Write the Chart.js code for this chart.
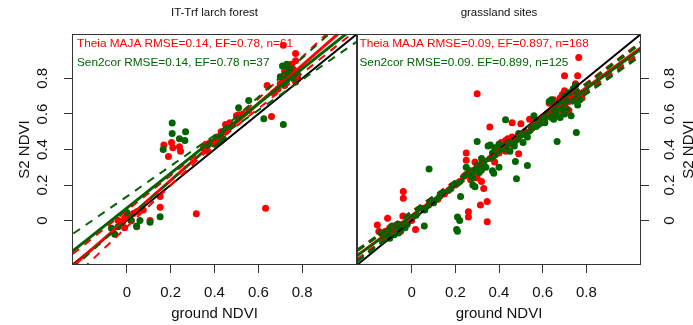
<!DOCTYPE html>
<html><head><meta charset="utf-8">
<script src="https://cdn.jsdelivr.net/npm/chart.js@4"></script>
<style>
html,body{margin:0;padding:0;background:#fff;width:693px;height:325px;overflow:hidden}
canvas{position:absolute;left:0;top:0}
</style></head>
<body>
<canvas id="c1" width="693" height="325"></canvas>
<canvas id="c2" width="693" height="325"></canvas>
<script>
// ---------- texts / ticks ----------
const panelTitles = ['IT-Trf larch forest', 'grassland sites'];
const xAxisTitle = 'ground NDVI';
const yAxisTitle = 'S2 NDVI';
const tickValues = [0, 0.2, 0.4, 0.6, 0.8];
const tickLabels = ['0', '0.2', '0.4', '0.6', '0.8'];
const axisMin = -0.25, axisMax = 1.05;
const forestLegend = ['Theia MAJA RMSE=0.14, EF=0.78, n=61', 'Sen2cor RMSE=0.14, EF=0.78 n=37'];
const grassLegend = ['Theia MAJA RMSE=0.09, EF=0.897, n=168', 'Sen2cor RMSE=0.09. EF=0.899, n=125'];

// ---------- left panel: IT-Trf larch forest ----------
const forestMajaX = [0.714,0.77,0.77,0.75,0.73,0.72,0.76,0.74,0.78,0.71,0.77,0.70,0.64,0.67,0.69,0.66,
  0.556,0.53,0.51,0.50,0.47,0.45,0.46,0.43,0.41,0.38,0.36,0.35,0.37,
  0.169,0.204,0.21,0.24,0.245,0.19,
  0.152,0.152,0.317,0.633,0.106,0.075,0.045,0.045,-0.01,-0.01,-0.04,0.01,0.02,0.03,-0.02];
const forestMajaY = [0.986,0.94,0.90,0.88,0.86,0.84,0.85,0.82,0.80,0.80,0.78,0.77,0.76,0.72,0.74,0.586,
  0.62,0.60,0.595,0.59,0.55,0.54,0.53,0.50,0.47,0.44,0.43,0.41,0.39,
  0.426,0.44,0.41,0.415,0.39,0.36,
  0.135,0.075,0.038,0.07,0.0,0.06,0.05,-0.035,0.013,-0.04,0.0,0.02,0.0,0.04,-0.01];
const forestSen2corX = [0.72,0.73,0.71,0.74,0.75,0.72,0.76,0.70,0.73,0.78,
  0.625,0.714,0.556,0.51,0.44,0.42,0.40,
  0.207,0.207,0.24,0.265,0.268,0.166,
  0.152,0.106,0.06,0.045,0.0,-0.04,-0.07,-0.055,0.02];
const forestSen2corY = [0.76,0.88,0.87,0.85,0.83,0.82,0.80,0.81,0.79,0.82,
  0.573,0.54,0.676,0.635,0.46,0.44,0.43,
  0.549,0.49,0.46,0.45,0.50,0.40,
  0.022,-0.01,0.0,-0.03,0.045,-0.035,-0.043,-0.077,0.0];
// fitted lines and confidence bands
const oneToOneX = [-0.3, 1.1];
const oneToOneY = [-0.3, 1.1];
const forestMajaFitX = [-0.3, 1.1];
const forestMajaFitY = [-0.314, 1.198];
const forestMajaBandX = [-0.3, 0, 0.4, 0.8, 1.1];
const forestMajaUpY = [-0.241, 0.056, 0.452, 0.920, 1.271];
const forestMajaLoY = [-0.387, -0.036, 0.432, 0.828, 1.125];
const forestSenFitX = [-0.3, 1.1];
const forestSenFitY = [-0.224, 1.148];
const forestSenBandX = [-0.3, 0, 0.42, 0.8, 1.1];
const forestSenUpY = [-0.121, 0.135, 0.497, 0.915, 1.245];
const forestSenLoY = [-0.327, 0.005, 0.467, 0.793, 1.051];

// ---------- right panel: grassland sites ----------
const grassMajaX = [0.765,0.30,0.70,0.76,0.358,0.49,-0.038,-0.038,0.33,0.346,0.315,0.346,0.26,0.26,0.25,0.25,0.018,-0.157,-0.15,-0.11,-0.04,0.77,0.46,0.50,
  -0.12,-0.10,-0.08,-0.06,-0.05,-0.09,-0.03,0.0,-0.13,
  0.05,0.08,0.12,0.15,0.17,0.2,0.22,0.1,
  0.24,0.26,0.28,0.29,0.31,0.33,0.27,0.3,0.32,0.29,
  0.36,0.38,0.40,0.41,0.43,0.44,0.45,0.46,0.47,0.48,0.44,0.42,0.46,0.49,0.40,0.38,0.43,
  0.52,0.55,0.54,0.56,0.58,0.60,0.62,0.64,0.65,0.66,0.67,0.68,0.70,0.71,0.72,0.66,0.63,0.69,0.73,0.74,0.75,0.68,0.7,0.78,0.61,0.65,0.72];
const grassMajaY = [0.918,0.714,0.815,0.815,0.526,0.376,0.163,0.126,0.18,0.107,0.088,-0.006,0.05,0.02,0.38,0.34,-0.05,-0.025,-0.062,0.013,0.026,0.714,0.55,0.545,
  -0.06,-0.04,-0.05,-0.03,-0.06,-0.08,-0.02,0.0,-0.09,
  0.07,0.09,0.12,0.15,0.17,0.2,0.22,0.1,
  0.25,0.27,0.26,0.28,0.30,0.31,0.23,0.24,0.22,0.33,
  0.35,0.37,0.38,0.44,0.45,0.46,0.45,0.47,0.44,0.46,0.43,0.42,0.43,0.47,0.42,0.33,0.39,
  0.50,0.52,0.57,0.57,0.55,0.58,0.60,0.62,0.65,0.64,0.66,0.62,0.65,0.68,0.67,0.61,0.66,0.71,0.70,0.74,0.77,0.69,0.73,0.69,0.57,0.68,0.62];
const grassSen2corX = [0.30,0.43,0.36,0.475,0.48,0.754,0.666,0.08,0.376,0.21,0.22,0.206,0.21,0.224,0.25,0.25,0.32,0.32,0.29,0.28,0.058,0.53,0.40,0.37,
  -0.11,-0.10,-0.09,-0.08,-0.07,-0.06,-0.05,-0.04,-0.03,-0.08,-0.12,-0.02,-0.06,-0.1,-0.14,
  0.02,0.06,0.1,0.13,0.18,0.21,
  0.27,0.30,0.32,0.31,0.34,0.28,
  0.37,0.39,0.40,0.42,0.43,0.44,0.35,0.38,0.45,0.47,0.50,0.52,0.53,0.51,0.49,0.55,0.57,0.58,0.56,0.6,
  0.62,0.63,0.64,0.66,0.67,0.69,0.70,0.71,0.72,0.74,0.75,0.76,0.73,0.68,0.65,0.61,0.74,0.7,0.77,0.66];
const grassSen2corY = [0.445,0.567,0.426,0.333,0.235,0.496,0.445,0.29,0.267,0.02,0.0,-0.05,-0.06,0.135,0.30,0.26,0.35,0.285,0.19,0.2,-0.03,0.31,0.3,0.28,
  -0.07,-0.05,-0.03,-0.06,-0.04,-0.02,-0.05,-0.03,-0.04,-0.08,-0.09,-0.02,-0.07,-0.1,-0.07,
  0.03,0.06,0.1,0.14,0.18,0.21,
  0.28,0.31,0.32,0.27,0.30,0.24,
  0.38,0.40,0.43,0.41,0.42,0.44,0.42,0.41,0.39,0.42,0.48,0.50,0.47,0.44,0.49,0.52,0.53,0.56,0.59,0.57,
  0.60,0.67,0.68,0.63,0.65,0.66,0.60,0.63,0.72,0.74,0.76,0.65,0.59,0.58,0.57,0.55,0.68,0.7,0.68,0.6];
const grassMajaFitX = [-0.3, 1.1];
const grassMajaFitY = [-0.24, 1.02];
const grassMajaBandX = [-0.3, 0.35, 1.1];
const grassMajaUpY = [-0.2125, 0.353, 1.0505];
const grassMajaLoY = [-0.2675, 0.337, 0.9895];
const grassSenFitX = [-0.3, 1.1];
const grassSenFitY = [-0.2435, 1.0095];
const grassSenBandX = [-0.3, 0.35, 1.1];
const grassSenUpY = [-0.2108, 0.348, 1.0458];
const grassSenLoY = [-0.276, 0.328, 0.973];

// ---------- helpers ----------
const RED = '#ff0000', GREEN = '#006400', INK = '#111111', FRAME = '#333333';
const FONT = '"Liberation Sans", Arial, Helvetica, sans-serif';
Chart.defaults.font.family = FONT;
Chart.defaults.color = INK;

const pts = (xs, ys) => xs.map((x, i) => ({x, y: ys[i]}));
const pointSet = (xs, ys, color, order) => ({
  data: pts(xs, ys), backgroundColor: color, borderWidth: 0, pointRadius: 3.5,
  pointHoverRadius: 3.5, showLine: false, order
});
const lineSet = (xs, ys, color, width, dash, order) => ({
  data: pts(xs, ys), borderColor: color, borderWidth: width, borderDash: dash || [],
  pointRadius: 0, showLine: true, fill: false, tension: 0, clip: 0, order
});

const panelPlugin = {
  id: 'panelText',
  beforeDatasetsDraw(chart, args, o) {
    const ctx = chart.ctx, a = chart.chartArea;
    ctx.save();
    ctx.font = '11.8px ' + FONT;
    ctx.textBaseline = 'middle';
    ctx.textAlign = 'left';
    o.lines.forEach((t, i) => {
      ctx.fillStyle = o.colors[i];
      ctx.fillText(t, a.left + o.dx, a.top + o.dy[i]);
    });
    if (o.sideTitle) {
      ctx.font = '15px ' + FONT;
      ctx.fillStyle = INK;
      ctx.textAlign = 'center';
      ctx.translate(o.sideX, (a.top + a.bottom) / 2);
      ctx.rotate(-Math.PI / 2);
      ctx.fillText(o.sideTitle, 0, 0);
    }
    ctx.restore();
  },
  afterDraw(chart) {
    const ctx = chart.ctx, a = chart.chartArea;
    ctx.save();
    ctx.strokeStyle = FRAME;
    ctx.lineWidth = 1;
    const l = Math.round(a.left) + 0.5, r = Math.round(a.right) - 0.5;
    const t = Math.round(a.top) + 0.5, b = Math.round(a.bottom) - 0.5;
    ctx.strokeRect(l, t, r - l, b - t);
    ctx.restore();
  }
};

function setTicks(s) { s.ticks = tickValues.map(v => ({value: v})); }

function makeChart(id, cfg) {
  const xScale = {
    type: 'linear', min: axisMin, max: axisMax, position: 'bottom',
    afterBuildTicks: setTicks,
    afterFit: s => { s.height = 60; },
    grid: {display: true, drawOnChartArea: false, drawTicks: true, tickLength: 8, tickColor: FRAME, tickWidth: 1},
    border: {display: false},
    ticks: {minRotation: 0, maxRotation: 0, padding: 11, font: {size: 15}, color: INK,
            autoSkip: false, callback: (v, i) => tickLabels[i]},
    title: {display: true, text: xAxisTitle, font: {size: 15}, color: INK, padding: {top: 0, bottom: 2}}
  };
  const yScale = {
    type: 'linear', min: axisMin, max: axisMax, position: cfg.yPos,
    afterBuildTicks: setTicks,
    afterFit: s => { s.width = cfg.yWidth; },
    grid: {display: true, drawOnChartArea: false, drawTicks: true, tickLength: 8, tickColor: FRAME, tickWidth: 1},
    border: {display: false},
    ticks: {minRotation: 90, maxRotation: 90, crossAlign: 'center', padding: 10.5, font: {size: 15},
            color: INK, autoSkip: false, callback: (v, i) => tickLabels[i]},
    title: {display: cfg.yTitle, text: yAxisTitle, font: {size: 15}, color: INK, padding: {top: 16, bottom: 0}}
  };
  return new Chart(document.getElementById(id), {
    type: 'scatter',
    data: {datasets: cfg.datasets},
    options: {
      responsive: false, animation: false, devicePixelRatio: 1, events: [],
      layout: {padding: cfg.padding, autoPadding: false},
      scales: {x: xScale, y: yScale},
      plugins: {
        legend: {display: false}, tooltip: {enabled: false},
        title: {display: true, text: cfg.title, fullSize: false, color: INK,
                font: {size: 11.5, weight: 'normal'}, padding: {top: 6, bottom: 14.2}},
        panelText: cfg.text
      }
    },
    plugins: [panelPlugin]
  });
}

makeChart('c1', {
  title: panelTitles[0], yPos: 'left', yWidth: 72, yTitle: true,
  padding: {left: 0, right: 336, top: 0, bottom: 0},
  text: {lines: forestLegend, colors: [RED, GREEN], dx: 5, dy: [10, 28.5]},
  datasets: [
    lineSet(forestSenFitX, forestSenFitY, GREEN, 3, null, 1),
    lineSet(forestSenBandX, forestSenUpY, GREEN, 2, [8, 7], 1),
    lineSet(forestSenBandX, forestSenLoY, GREEN, 2, [8, 7], 1),
    lineSet(forestMajaFitX, forestMajaFitY, RED, 3, null, 2),
    lineSet(forestMajaBandX, forestMajaUpY, RED, 2, [8, 7], 2),
    lineSet(forestMajaBandX, forestMajaLoY, RED, 2, [8, 7], 2),
    lineSet(oneToOneX, oneToOneY, '#000000', 2, null, 3),
    pointSet(forestSen2corX, forestSen2corY, GREEN, 4),
    pointSet(forestMajaX, forestMajaY, RED, 5)
  ]
});

makeChart('c2', {
  title: panelTitles[1], yPos: 'right', yWidth: 52, yTitle: false,
  padding: {left: 357, right: 0, top: 0, bottom: 0},
  text: {lines: grassLegend, colors: [RED, GREEN], dx: 2.5, dy: [10, 28.3], sideTitle: yAxisTitle, sideX: 689},
  datasets: [
    lineSet(grassSenFitX, grassSenFitY, GREEN, 2.5, null, 1),
    lineSet(grassSenBandX, grassSenUpY, GREEN, 3, [8, 6], 1),
    lineSet(grassSenBandX, grassSenLoY, GREEN, 3, [8, 6], 1),
    lineSet(grassMajaFitX, grassMajaFitY, RED, 2.5, null, 2),
    lineSet(grassMajaBandX, grassMajaUpY, RED, 3, [8, 6], 2),
    lineSet(grassMajaBandX, grassMajaLoY, RED, 3, [8, 6], 2),
    lineSet(oneToOneX, oneToOneY, '#000000', 2, null, 3),
    pointSet(grassSen2corX, grassSen2corY, GREEN, 4),
    pointSet(grassMajaX, grassMajaY, RED, 5)
  ]
});
</script>
</body></html>
